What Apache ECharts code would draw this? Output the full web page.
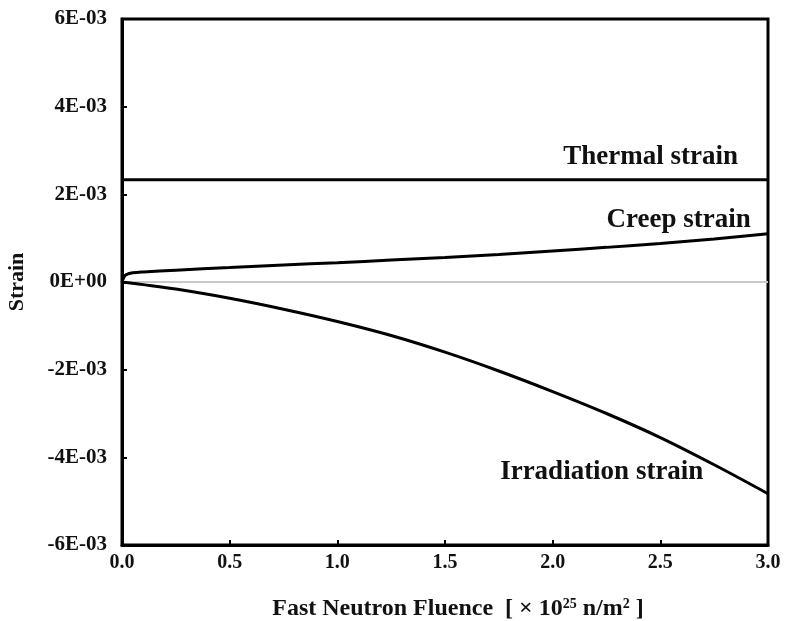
<!DOCTYPE html>
<html>
<head>
<meta charset="utf-8">
<script src="https://cdn.jsdelivr.net/npm/echarts@6/dist/echarts.min.js"></script>
<style>
  html, body { margin: 0; padding: 0; background: #fff; }
  #chart { width: 786px; height: 621px; }
</style>
</head>
<body>
<div id="chart"></div>
<script>
// Fast neutron fluence, ×10^25 n/m^2
const fluence = [0, 0.01, 0.02, 0.05, 0.1, 0.25, 0.5, 0.75, 1.0, 1.25, 1.5, 1.75, 2.0, 2.25, 2.5, 2.75, 3.0];
// Strains, in units of 1E-03
const creepStrain = [0, 0.12, 0.17, 0.21, 0.23, 0.27, 0.33, 0.39, 0.44, 0.50, 0.56, 0.63, 0.71, 0.79, 0.88, 0.98, 1.10];
const irradiationStrain = [0, -0.01, -0.01, -0.03, -0.06, -0.16, -0.37, -0.62, -0.90, -1.22, -1.60, -2.03, -2.50, -3.00, -3.55, -4.17, -4.83];
const thermalStrain = 2.33;
const thermalRange = [0, 3.0];
const yTicks = [-6, -4, -2, 0, 2, 4, 6];
const xTicks = [0, 0.5, 1.0, 1.5, 2.0, 2.5, 3.0];

const serif = '"Liberation Serif", "Times New Roman", serif';
const scale = 1e-3;

function eNotation(v) {
  const x = v * scale;
  if (Math.abs(x) < 1e-12) return '0E+00';
  const exp = Math.floor(Math.log10(Math.abs(x)) + 1e-9);
  const mant = Math.round(x / Math.pow(10, exp));
  const sign = exp < 0 ? '-' : '+';
  const e = String(Math.abs(exp)).padStart(2, '0');
  return mant + 'E' + sign + e;
}

function pairs(xs, ys) { return xs.map((x, i) => [x, ys[i]]); }

function curveLabel(text, coord) {
  return {
    symbol: 'circle',
    symbolSize: 0,
    silent: true,
    label: {
      show: true,
      position: 'inside',
      formatter: text,
      color: '#111',
      fontFamily: serif,
      fontWeight: 'bold',
      fontSize: 27
    },
    data: [{ coord: coord }]
  };
}

const chart = echarts.init(document.getElementById('chart'));
chart.setOption({
  animation: false,
  backgroundColor: '#fff',
  grid: {
    left: 122, right: 18, top: 19, bottom: 76,
    outerBoundsMode: 'none',
    containLabel: false,
    show: true, borderColor: '#000', borderWidth: 3, backgroundColor: 'transparent'
  },
  xAxis: {
    type: 'value',
    min: xTicks[0], max: xTicks[xTicks.length - 1], interval: 0.5,
    axisLine: { show: true, onZero: false, lineStyle: { color: '#000', width: 3 } },
    axisTick: { show: true, inside: true, length: 5, lineStyle: { color: '#000', width: 2 } },
    splitLine: { show: false },
    axisLabel: {
      margin: 8, color: '#111', fontFamily: serif, fontWeight: 'bold', fontSize: 20,
      formatter: v => v.toFixed(1)
    },
    name: '{t|Fast Neutron Fluence  [ × 10}{s|25}{t| n/m}{s|2}{t| ]}',
    nameLocation: 'middle',
    nameGap: 52,
    nameTextStyle: {
      padding: [0, 0, 0, 26],
      rich: {
        t: { fontFamily: serif, fontWeight: 'bold', fontSize: 24, color: '#111' },
        s: { fontFamily: serif, fontWeight: 'bold', fontSize: 14, color: '#111', verticalAlign: 'top', padding: [0, 0, 9, 0] }
      }
    }
  },
  yAxis: {
    type: 'value',
    min: yTicks[0], max: yTicks[yTicks.length - 1], interval: 2,
    axisLine: { show: true, onZero: false, lineStyle: { color: '#000', width: 3 } },
    axisTick: { show: true, inside: true, length: 5, lineStyle: { color: '#000', width: 2 } },
    splitLine: { show: false },
    axisLabel: {
      margin: 15, color: '#111', fontFamily: serif, fontWeight: 'bold', fontSize: 21,
      formatter: eNotation
    },
    name: 'Strain',
    nameLocation: 'middle',
    nameRotate: 90,
    nameGap: 94,
    nameTextStyle: { fontFamily: serif, fontWeight: 'bold', fontSize: 22, color: '#111' }
  },
  series: [
    {
      name: 'Thermal strain',
      type: 'line',
      data: thermalRange.map(x => [x, thermalStrain]),
      showSymbol: false,
      lineStyle: { color: '#000', width: 3 },
      z: 3,
      markLine: {
        silent: true,
        symbol: 'none',
        label: { show: false },
        lineStyle: { color: '#c8c8c8', width: 2, type: 'solid' },
        data: [{ yAxis: 0 }],
        z: 1
      },
      markPoint: curveLabel('Thermal strain', [2.455, 2.86])
    },
    {
      name: 'Creep strain',
      type: 'line',
      data: pairs(fluence, creepStrain),
      showSymbol: false,
      smooth: 0.3,
      lineStyle: { color: '#000', width: 3 },
      z: 3,
      markPoint: curveLabel('Creep strain', [2.585, 1.41])
    },
    {
      name: 'Irradiation strain',
      type: 'line',
      data: pairs(fluence, irradiationStrain),
      showSymbol: false,
      smooth: 0.3,
      lineStyle: { color: '#000', width: 3 },
      z: 3,
      markPoint: curveLabel('Irradiation strain', [2.228, -4.34])
    }
  ]
});
</script>
</body>
</html>
